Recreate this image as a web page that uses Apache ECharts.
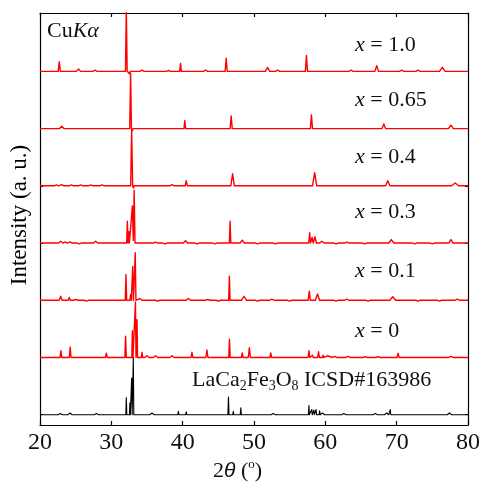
<!DOCTYPE html>
<html><head><meta charset="utf-8">
<script src="https://cdn.jsdelivr.net/npm/echarts@6/dist/echarts.min.js"></script>
<style>html,body{margin:0;padding:0;background:#fff}#c{width:483px;height:485px}</style>
</head><body><div id="c"></div>
<script>
// ---- data (2theta in degrees, intensity in a.u.; pattern spacing = 100 a.u.) ----
const xTickValues = [20, 30, 40, 50, 60, 70, 80];
const sampleNames = ['x = 1.0', 'x = 0.65', 'x = 0.4', 'x = 0.3', 'x = 0.1', 'x = 0', 'LaCa2Fe3O8 ICSD#163986'];
const offsets = [600, 500, 400, 300, 200, 100, 0];
// peaks: [2theta, height, half-width]
const peaksX100 = [[22.7,17,0.15],[25.4,4,0.3],[27.7,2,0.3],[32.1,110,0.12],[32.55,-4,0.12],[34.3,2,0.3],[38.0,1.5,0.3],[39.7,14,0.12],[43.2,2,0.3],[46.1,23,0.15],[51.9,7,0.3],[53.3,2,0.3],[57.35,28,0.15],[63.6,2,0.3],[67.2,10,0.25],[70.7,2,0.3],[73.0,2,0.3],[76.4,7,0.4]];
const peaksX065 = [[23.05,4,0.3],[32.7,97,0.12],[32.95,-4,0.1],[40.3,14,0.12],[46.8,22,0.15],[58.05,24,0.15],[68.2,8,0.25],[77.6,6,0.35]];
const peaksX040 = [[22.3,1.5,0.3],[23.05,2,0.3],[24.4,1.5,0.3],[25.7,1.5,0.3],[27.1,1.5,0.3],[28.7,1.5,0.3],[32.85,97,0.14],[33.1,-4,0.1],[38.5,2,0.3],[40.5,9,0.15],[47.0,21,0.25],[58.5,23,0.3],[68.75,9,0.3],[78.2,5,0.5]];
const peaksX030 = [[22.9,3,0.3],[23.5,2,0.3],[24.2,2,0.3],[25.5,-1.5,0.3],[27.8,3,0.3],[32.25,38,0.1],[32.45,20,0.08],[32.95,65,0.14],[33.2,92,0.12],[36.2,1.5,0.3],[37.5,-1.5,0.3],[40.4,4,0.3],[42.0,-1.5,0.3],[44.5,-1.5,0.3],[46.65,38,0.1],[48.35,5,0.3],[50.5,-1.5,0.3],[53.0,-1.5,0.3],[57.8,18,0.12],[58.15,10,0.15],[58.55,11,0.2],[59.5,3,0.3],[61.5,-1.5,0.3],[63.0,1.5,0.3],[65.5,-1.5,0.3],[69.25,6,0.35],[72.5,-1.5,0.3],[75.0,-1.5,0.3],[77.6,6,0.3]];
const peaksX010 = [[22.9,7,0.2],[24.1,5,0.15],[25.0,1.5,0.3],[26.5,-1.5,0.3],[32.05,45,0.1],[32.7,10,0.1],[33.0,59,0.1],[33.35,83,0.1],[34.0,3,0.3],[36.5,-1.5,0.3],[40.8,3,0.3],[43.5,1.5,0.3],[45.0,-1.5,0.3],[46.55,42,0.1],[48.6,7,0.35],[50.5,-1.5,0.3],[52.5,2,0.3],[55.0,-1.5,0.3],[57.75,16,0.15],[58.9,11,0.3],[61.5,-1.5,0.3],[63.0,2,0.3],[66.0,-1.5,0.3],[69.45,6,0.4],[73.0,-1.5,0.3],[76.0,-1.5,0.3],[78.5,2,0.3]];
const peaksX000 = [[22.93,12,0.12],[24.23,18,0.12],[29.3,7.5,0.12],[32.0,37,0.1],[32.95,47,0.08],[33.38,97,0.08],[33.6,66,0.08],[34.3,9,0.1],[35.0,3,0.3],[36.2,3,0.3],[38.5,3,0.3],[41.3,9,0.12],[43.4,13,0.15],[46.56,32,0.1],[48.35,8,0.12],[49.35,17,0.15],[52.35,8,0.12],[57.7,12,0.12],[58.2,4,0.1],[59.05,10,0.12],[59.7,4,0.1],[60.3,3,0.25],[61.3,2,0.3],[63.2,2,0.3],[65.6,1.5,0.3],[67.4,1.5,0.3],[70.2,7.5,0.15],[77.6,2,0.3]];
const peaksICSD = [[22.85,2,0.3],[24.2,3,0.3],[27.9,2,0.3],[32.1,30,0.07],[32.6,21,0.06],[32.85,64,0.07],[33.08,100,0.07],[35.7,3,0.3],[39.4,6,0.08],[40.5,5,0.08],[46.42,31,0.08],[47.1,6,0.07],[48.15,12,0.08],[52.7,2,0.3],[57.7,16,0.07],[58.1,9,0.07],[58.4,8,0.07],[58.7,9,0.07],[59.2,7,0.07],[59.6,3,0.3],[62.6,2,0.3],[67.0,2,0.3],[68.6,3,0.3],[69.1,9,0.08],[77.4,3,0.3]];
const allPeaks = [peaksX100, peaksX065, peaksX040, peaksX030, peaksX010, peaksX000, peaksICSD];
const colors = ['#ff0000','#ff0000','#ff0000','#ff0000','#ff0000','#ff0000','#000000'];

function trace(offset, peaks) {
  const bp = new Set([20, 80]);
  peaks.forEach(([p, h, w]) => { bp.add(+(p - w).toFixed(4)); bp.add(p); bp.add(+(p + w).toFixed(4)); });
  const xs = [...bp].sort((a, b) => a - b);
  return xs.map(x => {
    let y = offset;
    peaks.forEach(([p, h, w]) => { const d = Math.abs(x - p); if (d < w - 1e-6) y += h * (1 - d / w); });
    return [x, y];
  });
}

const serif = "Liberation Serif";
const chart = echarts.init(document.getElementById('c'), null, {renderer: 'canvas'});

const series = allPeaks.map((pk, i) => ({
  type: 'line', data: trace(offsets[i], pk), showSymbol: false, symbol: 'none',
  lineStyle: {width: i === 6 ? 1.1 : 1.4, color: colors[i], join: 'round'}, itemStyle: {color: colors[i]},
  clip: true, animation: false, z: 2 + i
}));

const richBase = {
  n: {fontFamily: serif, fontSize: 22, lineHeight: 26, color: '#111'},
  i: {fontFamily: serif, fontSize: 22, lineHeight: 26, color: '#111', fontStyle: 'italic'},
  s: {fontFamily: serif, fontSize: 14, lineHeight: 14, color: '#111', verticalAlign: 'bottom'},
  t: {fontFamily: "Liberation Sans", fontSize: 21, lineHeight: 26, color: '#111', fontStyle: 'italic'},
  u: {fontFamily: serif, fontSize: 13, lineHeight: 13, color: '#111', verticalAlign: 'top'}
};
function label(text, x, y, extra) {
  return Object.assign({
    type: 'text', x: x, y: y, z: 100,
    style: {text: text, rich: richBase, align: 'left', verticalAlign: 'middle', textAlign: 'left', textVerticalAlign: 'middle', fill: '#111', font: '22px ' + serif}
  }, extra || {});
}
function sampleRich(name) {
  if (name.startsWith('x')) return '{i|x}{n|' + name.slice(1) + '}';
  return '{n|LaCa}{s|2}{n|Fe}{s|3}{n|O}{s|8}{n| ICSD#163986}';
}
const labelY = [45, 100, 157, 212, 271.5, 331.5, 380];
const graphics = sampleNames.map((nm, i) => label(sampleRich(nm), i === 6 ? 192 : 355, labelY[i]));
graphics.push(label('{n|Cu}{i|Kα}', 47, 31.5));
graphics.push(label('{n|2}{t|θ}{n| (}{u|o}{n|)}', 213, 471));
graphics.push(label('{n|Intensity (a. u.)}', 20, 215, {rotation: Math.PI / 2, style: {text: '{n|Intensity (a. u.)}', rich: {n: {fontFamily: serif, fontSize: 23, lineHeight: 26, color: '#111'}}, align: 'center', verticalAlign: 'middle', textAlign: 'center', textVerticalAlign: 'middle'}}));

const axisLine = {show: true, onZero: false, lineStyle: {color: '#000', width: 1.2}};
chart.setOption({
  animation: false,
  grid: {left: 40, right: 13, top: 13, bottom: 60, containLabel: false},
  xAxis: [
    {type: 'value', position: 'bottom', min: 20, max: 80, interval: 10,
     axisLine: axisLine, axisTick: {inside: true, length: 4, lineStyle: {color: '#000', width: 1.2}},
     axisLabel: {fontFamily: serif, fontSize: 24, color: '#111', margin: 6},
     splitLine: {show: false}},
    {type: 'value', position: 'top', min: 20, max: 80, interval: 10,
     axisLine: axisLine, axisTick: {inside: true, length: 4, lineStyle: {color: '#000', width: 1.2}},
     axisLabel: {show: false}, splitLine: {show: false}}
  ],
  yAxis: [
    {type: 'value', position: 'left', min: -18, max: 702,
     axisLine: axisLine, axisTick: {show: true, inside: true, length: 3, customValues: offsets.slice().reverse(), lineStyle: {color: '#000'}},
     axisLabel: {show: false}, splitLine: {show: false}},
    {type: 'value', position: 'right', min: -18, max: 702,
     axisLine: axisLine, axisTick: {show: true, inside: true, length: 3, customValues: offsets.slice().reverse(), lineStyle: {color: '#000'}},
     axisLabel: {show: false}, splitLine: {show: false}}
  ],
  series: series,
  graphic: graphics
});
</script></body></html>
